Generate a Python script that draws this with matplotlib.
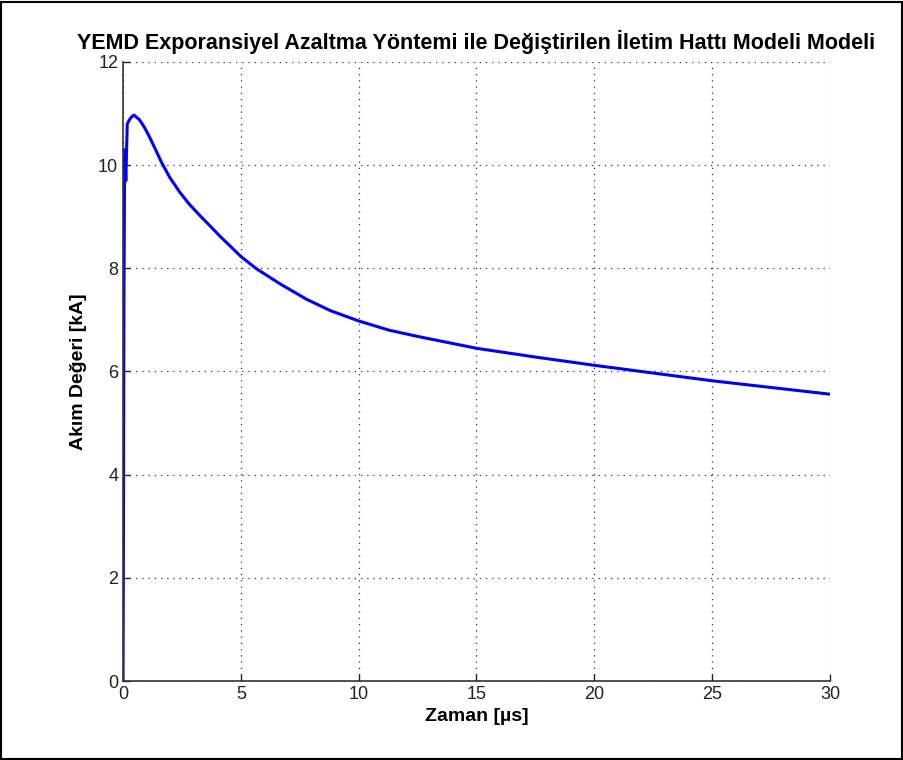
import numpy as np
import matplotlib
matplotlib.use('Agg')
import matplotlib.pyplot as plt
from matplotlib.patches import Rectangle

# values (time in us, current in kA)
zaman = [0, 0.02, 0.04, 0.07, 0.12, 0.18, 0.3, 0.4, 0.47, 0.7, 0.9, 1.1,
         1.3, 1.64, 2.0, 2.42, 2.8, 3.27, 3.7, 4.12, 4.6, 5.0, 5.67, 6.66,
         7.79, 8.8, 10.0, 11.3, 12.5, 15.0, 17.5, 20.0, 22.5, 25.0, 27.5, 30.0]
akim = [0, 2.8, 7.4, 10.3, 9.7, 10.8, 10.9, 10.95, 10.97, 10.88, 10.74, 10.57,
        10.38, 10.05, 9.75, 9.47, 9.25, 9.02, 8.82, 8.62, 8.41, 8.23, 7.99, 7.7,
        7.4, 7.18, 6.98, 6.8, 6.68, 6.45, 6.28, 6.12, 5.97, 5.82, 5.69, 5.56]

xticks = [0, 5, 10, 15, 20, 25, 30]
yticks = [0, 2, 4, 6, 8, 10, 12]

plt.rcParams['font.family'] = ['Liberation Sans', 'DejaVu Sans']

fig = plt.figure(figsize=(9.04, 7.6), dpi=100)
ax = fig.add_axes([123/904, 1 - 681/760, 707/904, 619/760])

ax.plot(zaman, akim, color='#0000ff', lw=2.2)

ax.set_xlim(0, 30)
ax.set_ylim(0, 12)
ax.set_xticks(xticks)
ax.set_yticks(yticks)
ax.tick_params(direction='in', length=5, width=1, labelsize=13, colors='#222222',
               top=False, right=False)
ax.grid(True, linestyle=(0, (1, 4)), color='#333333', lw=0.9)
for s in ['top', 'right']:
    ax.spines[s].set_visible(False)
for s in ['left', 'bottom']:
    ax.spines[s].set_color('#333333')
    ax.spines[s].set_linewidth(1.2)

ax.set_title('YEMD Exporansiyel Azaltma Yöntemi ile Değiştirilen İletim Hattı Modeli Modeli',
             fontsize=15.5, fontweight='bold', pad=9)
ax.set_xlabel('Zaman [µs]', fontsize=14, fontweight='bold', labelpad=4)
ax.set_ylabel('Akım Değeri [kA]', fontsize=14, fontweight='bold', labelpad=8)

fig.patches.append(Rectangle((0.001, 0.001), 0.997, 0.997, transform=fig.transFigure,
                             fill=False, edgecolor='black', lw=1.5))

fig.savefig('out.png', dpi=100)
